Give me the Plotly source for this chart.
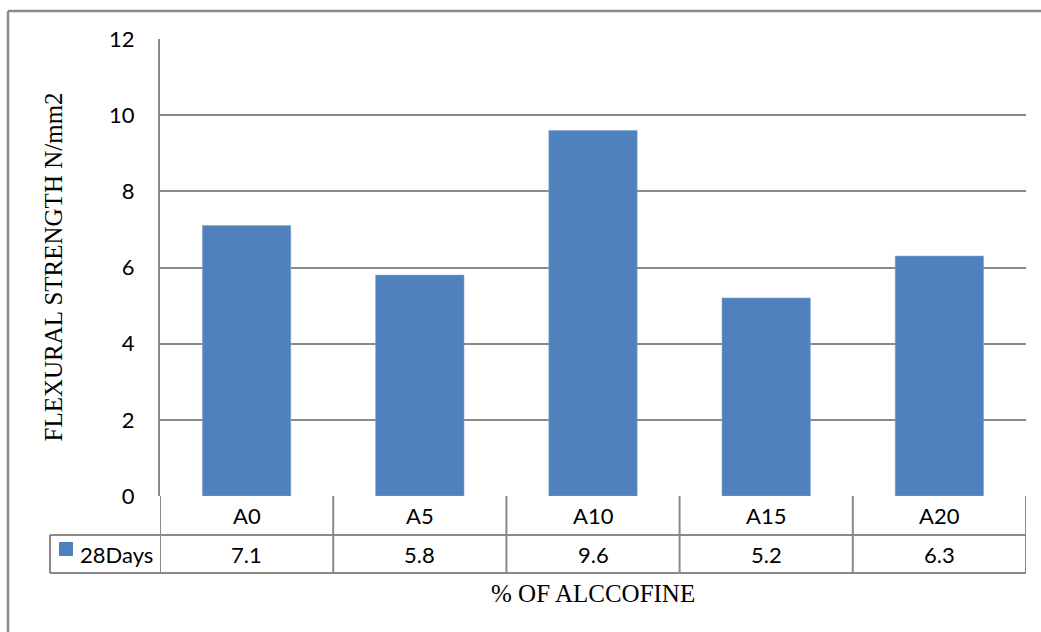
import plotly.graph_objects as go

# Flexural strength at 28 days for each alccofine replacement level
categories = ["A0", "A5", "A10", "A15", "A20"]
values_28d = [7.1, 5.8, 9.6, 5.2, 6.3]
series_name = "28Days"
y_ticks = [0, 2, 4, 6, 8, 10, 12]

W, H = 1041, 632
L, R, T, B = 160, 15, 39, 136
PW, PH = W - L - R, H - T - B

BAR = "#4F81BD"
GRID = "#8a8a8a"
SANS = "Lato, Calibri, sans-serif"
SERIF = "Liberation Serif, Times New Roman, serif"
FS = 22


def px_x(px):
    return (px - L) / PW


def px_y(py):
    return (H - B - py) / PH


fig = go.Figure(
    go.Bar(
        x=categories,
        y=values_28d,
        name=series_name,
        marker=dict(color=BAR, line=dict(color="#7fa3d0", width=0.6)),
        showlegend=False,
    )
)

shapes = []
annotations = []

# data table under the plot: category row and value row
row0_top, row1_top, row2_top = H - B, H - B + 39, H - B + 77
n = len(categories)
line = dict(color=GRID, width=2)
for i in range(n + 1):
    xb = i - 0.5
    shapes.append(dict(type="line", xref="x", yref="paper", x0=xb, x1=xb,
                       y0=px_y(row0_top), y1=px_y(row2_top), line=line))
for py in (row1_top, row2_top):
    shapes.append(dict(type="line", xref="paper", yref="paper", x0=px_x(50), x1=1,
                       y0=px_y(py), y1=px_y(py), line=line))
shapes.append(dict(type="line", xref="paper", yref="paper", x0=px_x(50), x1=px_x(50),
                   y0=px_y(row1_top), y1=px_y(row2_top), line=line))

cell_font = dict(family=SANS, size=FS, color="#000")
for cat, val in zip(categories, values_28d):
    annotations.append(dict(x=cat, y=px_y((row0_top + row1_top) / 2), xref="x", yref="paper",
                            xanchor="center", yanchor="middle",
                            text=cat, showarrow=False, font=cell_font))
    annotations.append(dict(x=cat, y=px_y((row1_top + row2_top) / 2), xref="x", yref="paper",
                            xanchor="center", yanchor="middle",
                            text=f"{val:g}", showarrow=False, font=cell_font))

# legend key inside the table
shapes.append(dict(type="rect", xref="paper", yref="paper", x0=px_x(59), x1=px_x(73),
                   y0=px_y(556), y1=px_y(542), fillcolor=BAR, line=dict(width=0)))
annotations.append(dict(x=px_x(78), y=px_y((row1_top + row2_top) / 2), xref="paper", yref="paper",
                        text=series_name, showarrow=False, xanchor="left", yanchor="middle",
                        font=cell_font))

# axis titles
annotations.append(dict(x=px_x(53), y=0.5, xref="paper", yref="paper", text="FLEXURAL STRENGTH N/mm2",
                        textangle=-90, showarrow=False, xanchor="center", yanchor="middle",
                        font=dict(family=SERIF, size=25, color="#000")))
annotations.append(dict(x=0.5, y=px_y(593), xref="paper", yref="paper", text="% OF ALCCOFINE",
                        showarrow=False, xanchor="center", yanchor="middle",
                        font=dict(family=SERIF, size=25, color="#000")))

# chart-area frame
shapes.append(dict(type="line", xref="paper", yref="paper", x0=px_x(8), x1=px_x(8),
                   y0=px_y(11), y1=px_y(H + 10), line=dict(color=GRID, width=2.5)))
shapes.append(dict(type="line", xref="paper", yref="paper", x0=px_x(8), x1=px_x(W + 10),
                   y0=px_y(11), y1=px_y(11), line=dict(color=GRID, width=2.5)))

fig.update_layout(
    width=W, height=H,
    margin=dict(l=L, r=R, t=T, b=B),
    paper_bgcolor="white", plot_bgcolor="white",
    bargap=0.49,
    shapes=shapes,
    annotations=annotations,
    xaxis=dict(range=[-0.5, n - 0.5], showticklabels=False, showgrid=False, zeroline=False,
               showline=False, ticks=""),
    yaxis=dict(range=[0, 12], tickvals=y_ticks, showgrid=True, gridcolor=GRID, gridwidth=2,
               zeroline=False, showline=True, linecolor=GRID, linewidth=2, ticks="",
               ticklabelstandoff=19, tickfont=dict(family=SANS, size=FS, color="#000")),
)

fig.write_html("out.html")
